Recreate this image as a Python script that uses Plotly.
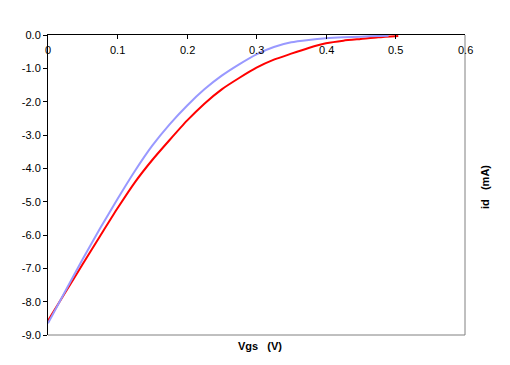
import plotly.graph_objects as go

vgs_blue = [0.000, 0.025, 0.050, 0.075, 0.100, 0.125, 0.150, 0.175, 0.200, 0.225, 0.250,
            0.275, 0.300, 0.325, 0.350, 0.375, 0.400, 0.425, 0.450, 0.475, 0.490]
id_blue = [-8.65, -7.68, -6.72, -5.80, -4.92, -4.08, -3.32, -2.68, -2.12, -1.63, -1.22,
           -0.88, -0.58, -0.36, -0.22, -0.15, -0.10, -0.07, -0.05, -0.03, -0.02]

vgs_red = [0.000, 0.025, 0.050, 0.075, 0.100, 0.125, 0.150, 0.175, 0.200, 0.225, 0.250,
           0.275, 0.300, 0.325, 0.350, 0.375, 0.400, 0.425, 0.450, 0.475, 0.504]
id_red = [-8.57, -7.72, -6.87, -6.03, -5.20, -4.42, -3.75, -3.15, -2.57, -2.06, -1.63,
          -1.29, -0.98, -0.74, -0.56, -0.39, -0.25, -0.17, -0.12, -0.07, -0.03]

x_ticks = [0, 0.1, 0.2, 0.3, 0.4, 0.5, 0.6]
x_labels = ["0", "0.1", "0.2", "0.3", "0.4", "0.5", "0.6"]
y_ticks = [0, -1, -2, -3, -4, -5, -6, -7, -8, -9]
y_labels = ["0.0", "-1.0", "-2.0", "-3.0", "-4.0", "-5.0", "-6.0", "-7.0", "-8.0", "-9.0"]

FONT = "Liberation Sans, Arial, sans-serif"

fig = go.Figure()
fig.add_trace(go.Scatter(x=vgs_red, y=id_red, mode="lines",
                         line=dict(color="#FF0000", width=2, shape="spline", smoothing=0.6),
                         showlegend=False))
fig.add_trace(go.Scatter(x=vgs_blue, y=id_blue, mode="lines",
                         line=dict(color="#9999FF", width=2, shape="spline", smoothing=0.6),
                         showlegend=False))

x_label_annotations = [
    dict(text=lab, x=v, xref="x", y=1, yref="paper", yshift=-15, showarrow=False,
         xanchor="center", yanchor="middle", font=dict(size=11, color="black"))
    for v, lab in zip(x_ticks, x_labels)
]

fig.update_layout(
    width=510, height=365,
    margin=dict(l=40, r=53, t=27, b=38, pad=0),
    paper_bgcolor="white", plot_bgcolor="white",
    font=dict(family=FONT, size=11, color="black"),
    xaxis=dict(range=[0, 0.6], side="top", tickvals=x_ticks, showticklabels=False,
               ticks="inside", ticklen=4, tickcolor="black", automargin=False,
               showline=True, linecolor="black", linewidth=1,
               showgrid=False, zeroline=False),
    yaxis=dict(range=[-9, 0], tickvals=y_ticks, ticktext=y_labels, automargin=False,
               ticks="outside", ticklen=4, tickcolor="black",
               showline=True, linecolor="black", linewidth=1,
               showgrid=False, zeroline=False, tickfont=dict(size=11, color="black")),
    shapes=[
        dict(type="line", xref="paper", yref="paper", x0=1, x1=1, y0=0, y1=1,
             line=dict(color="#808080", width=1)),
        dict(type="line", xref="paper", yref="paper", x0=0, x1=1, y0=0, y1=0,
             line=dict(color="#808080", width=1)),
    ],
    annotations=x_label_annotations + [
        dict(text="<b>Vgs   (V)</b>", xref="paper", yref="paper", x=(260 - 48) / 417,
             y=-(346 - 335) / 300, showarrow=False, xanchor="center", yanchor="middle",
             font=dict(size=11)),
        dict(text="<b>id   (mA)</b>", xref="paper", yref="paper", x=(485 - 48) / 417,
             y=(335 - 187) / 300, showarrow=False, textangle=-90,
             xanchor="center", yanchor="middle", font=dict(size=11)),
    ],
)

fig.write_html("out.html")
